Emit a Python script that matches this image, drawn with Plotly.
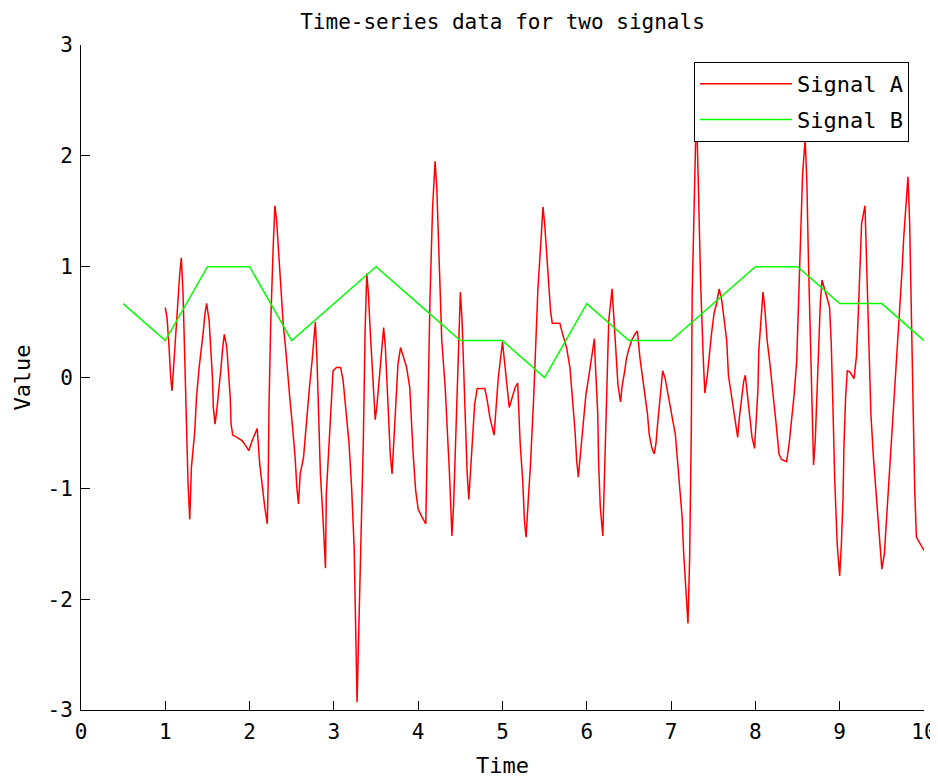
import plotly.graph_objects as go

# ---- data ----
time_a = [1.00, 1.02, 1.04, 1.05, 1.065, 1.08, 1.11, 1.14, 1.17, 1.19, 1.21, 1.23, 1.25, 1.27, 1.29,
          1.31, 1.35, 1.37, 1.40, 1.43, 1.45, 1.47, 1.49, 1.52, 1.54, 1.56, 1.57, 1.59, 1.61, 1.64,
          1.66, 1.68, 1.70, 1.73, 1.75, 1.77, 1.78, 1.80, 1.85, 1.91, 1.95, 1.99, 2.03, 2.06, 2.09,
          2.12, 2.15, 2.18, 2.21, 2.22, 2.23, 2.25, 2.28, 2.30, 2.32, 2.34, 2.36, 2.38, 2.40, 2.43,
          2.45, 2.48, 2.51, 2.54, 2.56, 2.58, 2.60, 2.64, 2.66, 2.68, 2.71, 2.74, 2.76, 2.78, 2.80,
          2.82, 2.84, 2.87, 2.89, 2.90, 2.91, 2.94, 2.97, 2.99, 3.03, 3.08, 3.11, 3.13, 3.16, 3.18,
          3.21, 3.24, 3.275, 3.31, 3.33, 3.35, 3.37, 3.39, 3.41, 3.43, 3.45, 3.47, 3.49, 3.51, 3.53,
          3.55, 3.57, 3.59, 3.61, 3.63, 3.65, 3.67, 3.69, 3.70, 3.72, 3.74, 3.76, 3.79, 3.82, 3.86,
          3.90, 3.92, 3.94, 3.97, 4.00, 4.04, 4.09, 4.10, 4.12, 4.14, 4.17, 4.20, 4.22, 4.24, 4.26,
          4.28, 4.32, 4.35, 4.37, 4.39, 4.40, 4.42, 4.44, 4.46, 4.48, 4.50, 4.52, 4.54, 4.56, 4.58,
          4.60, 4.63, 4.65, 4.67, 4.70, 4.79, 4.82, 4.85, 4.90, 4.93, 4.95, 5.00, 5.04, 5.08, 5.15,
          5.18, 5.21, 5.24, 5.26, 5.28, 5.31, 5.33, 5.37, 5.40, 5.42, 5.46, 5.48, 5.50, 5.52, 5.54,
          5.57, 5.59, 5.68, 5.71, 5.76, 5.80, 5.83, 5.86, 5.88, 5.90, 5.91, 5.93, 5.95, 5.97, 5.99,
          6.02, 6.05, 6.07, 6.09, 6.10, 6.13, 6.14, 6.16, 6.19, 6.20, 6.22, 6.24, 6.26, 6.30, 6.31,
          6.33, 6.35, 6.37, 6.40, 6.42, 6.45, 6.47, 6.50, 6.53, 6.57, 6.60, 6.63, 6.66, 6.69, 6.72,
          6.74, 6.77, 6.80, 6.82, 6.84, 6.86, 6.88, 6.90, 6.93, 6.96, 6.99, 7.02, 7.05, 7.07, 7.10,
          7.13, 7.15, 7.18, 7.20, 7.22, 7.24, 7.25, 7.28, 7.30, 7.33, 7.35, 7.38, 7.40, 7.43, 7.45,
          7.48, 7.51, 7.54, 7.57, 7.60, 7.63, 7.66, 7.68, 7.71, 7.74, 7.77, 7.79, 7.81, 7.84, 7.86,
          7.88, 7.91, 7.94, 7.96, 7.99, 8.01, 8.03, 8.04, 8.07, 8.09, 8.11, 8.14, 8.17, 8.19, 8.22,
          8.25, 8.28, 8.31, 8.37, 8.40, 8.43, 8.46, 8.49, 8.51, 8.54, 8.56, 8.59, 8.61, 8.63, 8.65,
          8.67, 8.69, 8.71, 8.73, 8.75, 8.77, 8.79, 8.82, 8.85, 8.88, 8.90, 8.92, 8.94, 8.97, 9.00,
          9.02, 9.04, 9.05, 9.07, 9.09, 9.12, 9.17, 9.20, 9.22, 9.24, 9.26, 9.30, 9.31, 9.33, 9.35,
          9.37, 9.40, 9.43, 9.45, 9.48, 9.50, 9.53, 9.55, 9.57, 9.59, 9.62, 9.64, 9.66, 9.68, 9.71,
          9.74, 9.76, 9.79, 9.81, 9.83, 9.85, 9.87, 9.89, 9.91, 9.95, 10.00]

signal_a = [0.63, 0.54, 0.33, 0.17, -0.01, -0.12, 0.24, 0.60, 0.92, 1.08, 0.77, 0.20, -0.40, -0.96, -1.28,
            -0.81, -0.48, -0.18, 0.08, 0.26, 0.41, 0.57, 0.67, 0.51, 0.26, -0.01, -0.27, -0.42, -0.30, -0.10,
            0.08, 0.26, 0.39, 0.27, 0.03, -0.18, -0.42, -0.52, -0.54, -0.57, -0.61, -0.66, -0.57, -0.51, -0.46,
            -0.78, -0.99, -1.17, -1.32, -0.96, -0.27, 0.48, 1.18, 1.55, 1.42, 1.18, 0.94, 0.69, 0.47, 0.24,
            0.03, -0.21, -0.45, -0.72, -0.99, -1.14, -0.87, -0.72, -0.54, -0.34, -0.09, 0.14, 0.36, 0.50, 0.15,
            -0.33, -0.87, -1.26, -1.59, -1.72, -1.05, -0.60, -0.18, 0.06, 0.09, 0.09, -0.03, -0.21, -0.42, -0.60,
            -0.99, -1.53, -2.93, -1.60, -1.17, -0.54, 0.42, 0.94, 0.75, 0.43, 0.12, -0.19, -0.38, -0.26, -0.08,
            0.14, 0.32, 0.45, 0.28, -0.05, -0.38, -0.71, -0.87, -0.72, -0.44, -0.16, 0.12, 0.27, 0.20, 0.10,
            -0.09, -0.41, -0.69, -1.02, -1.19, -1.25, -1.32, -0.90, -0.09, 0.71, 1.52, 1.95, 1.72, 1.26, 0.79,
            0.33, -0.09, -0.49, -0.85, -1.23, -1.43, -1.15, -0.62, -0.06, 0.40, 0.77, 0.52, 0.05, -0.39, -0.85,
            -1.10, -0.72, -0.48, -0.24, -0.10, -0.10, -0.21, -0.36, -0.52, -0.21, 0.00, 0.32, 0.04, -0.27, -0.09,
            -0.05, -0.60, -0.93, -1.29, -1.44, -1.05, -0.81, -0.18, 0.32, 0.80, 1.28, 1.54, 1.39, 1.15, 0.86,
            0.60, 0.49, 0.49, 0.40, 0.27, 0.09, -0.18, -0.48, -0.75, -0.90, -0.81, -0.64, -0.48, -0.30, -0.15,
            -0.01, 0.14, 0.27, 0.35, 0.15, -0.33, -0.76, -1.17, -1.43, -1.14, -0.58, -0.04, 0.51, 0.80, 0.67,
            0.42, 0.15, -0.07, -0.22, -0.07, 0.06, 0.17, 0.26, 0.33, 0.39, 0.42, 0.18, 0.00, -0.16, -0.33,
            -0.51, -0.63, -0.69, -0.60, -0.42, -0.24, -0.04, 0.06, -0.01, -0.15, -0.27, -0.39, -0.51, -0.69, -0.93,
            -1.25, -1.60, -2.04, -2.22, -1.63, -0.45, 0.75, 1.95, 2.45, 1.52, 0.86, 0.20, -0.14, 0.02, 0.20,
            0.40, 0.58, 0.67, 0.80, 0.70, 0.52, 0.33, 0.02, -0.14, -0.29, -0.45, -0.54, -0.36, -0.17, -0.04,
            0.02, -0.20, -0.39, -0.54, -0.64, -0.42, -0.11, 0.24, 0.58, 0.77, 0.64, 0.33, 0.14, -0.04, -0.23,
            -0.45, -0.69, -0.74, -0.76, -0.60, -0.39, -0.15, 0.15, 0.69, 1.27, 1.84, 2.15, 1.78, 1.03, 0.33,
            -0.39, -0.79, -0.57, -0.15, 0.24, 0.67, 0.88, 0.81, 0.72, 0.63, 0.30, -0.27, -0.90, -1.50, -1.79,
            -1.50, -1.08, -0.63, -0.18, 0.06, 0.05, -0.01, 0.20, 0.57, 0.97, 1.39, 1.55, 1.30, 0.76, 0.21,
            -0.33, -0.72, -1.02, -1.29, -1.59, -1.73, -1.59, -1.35, -1.08, -0.84, -0.57, -0.30, -0.06, 0.21, 0.57,
            0.97, 1.27, 1.60, 1.81, 1.39, 0.57, -0.21, -1.02, -1.44, -1.50, -1.56]

time_b = [0.5, 1.0, 1.5, 2.0, 2.5, 3.0, 3.5, 4.0, 4.5, 5.0,
          5.5, 6.0, 6.5, 7.0, 7.5, 8.0, 8.5, 9.0, 9.5, 10.0]
signal_b = [0.667, 0.333, 1.0, 1.0, 0.333, 0.667, 1.0, 0.667, 0.333, 0.333,
            0.0, 0.667, 0.333, 0.333, 0.667, 1.0, 1.0, 0.667, 0.667, 0.333]

x_ticks = [0, 1, 2, 3, 4, 5, 6, 7, 8, 9, 10]
x_tick_labels = ["0", "1", "2", "3", "4", "5", "6", "7", "8", "9", "10"]
y_ticks = [-3, -2, -1, 0, 1, 2, 3]
y_tick_labels = ["-3", "-2", "-1", "0", "1", "2", "3"]

FONT = "DejaVu Sans Mono"
FS = 22

# page body has an 8px margin; figure is sized so it ends at the window edge
W, H = 930, 772

fig = go.Figure()
fig.add_trace(go.Scatter(x=time_a, y=signal_a, mode="lines", name="Signal A",
                         legendgroup="a", line=dict(color="#ff0000", width=1.5)))
fig.add_trace(go.Scatter(x=time_b, y=signal_b, mode="lines", name="Signal B",
                         legendgroup="b", line=dict(color="#00ff00", width=1.5)))

axis_common = dict(showgrid=False, zeroline=False, showline=True, linecolor="black",
                   linewidth=1, ticks="inside", tickcolor="black", ticklen=9, tickwidth=1,
                   mirror=False, automargin=False,
                   tickfont=dict(family=FONT, size=21, color="black"))

fig.update_layout(
    width=W, height=H,
    margin=dict(l=73, r=14, t=37, b=70),
    paper_bgcolor="white", plot_bgcolor="white",
    font=dict(family=FONT, size=FS, color="black"),
    title=dict(text="Time-series data for two signals", x=0.5, xref="paper",
               y=1 - 14 / H, yref="container", yanchor="middle",
               font=dict(family=FONT, size=21, color="black")),
    xaxis=dict(range=[0, 10], tickvals=x_ticks, ticktext=x_tick_labels,
               title=dict(text="Time", standoff=14, font=dict(family=FONT, size=FS)),
               ticklabelstandoff=3, **axis_common),
    yaxis=dict(range=[-3, 3], tickvals=y_ticks, ticktext=y_tick_labels,
               title=dict(text="Value", standoff=10, font=dict(family=FONT, size=FS)),
               ticklabelstandoff=3, **axis_common),
    legend=dict(x=(694 - 81) / 843, y=(710 - 62) / 665, xanchor="left", yanchor="top",
                bgcolor="white", bordercolor="black", borderwidth=1,
                font=dict(family=FONT, size=FS, color="black"),
                itemwidth=92, tracegroupgap=4,
                entrywidth=220, entrywidthmode="pixels"),
    showlegend=True,
)

fig.write_html("out.html")
